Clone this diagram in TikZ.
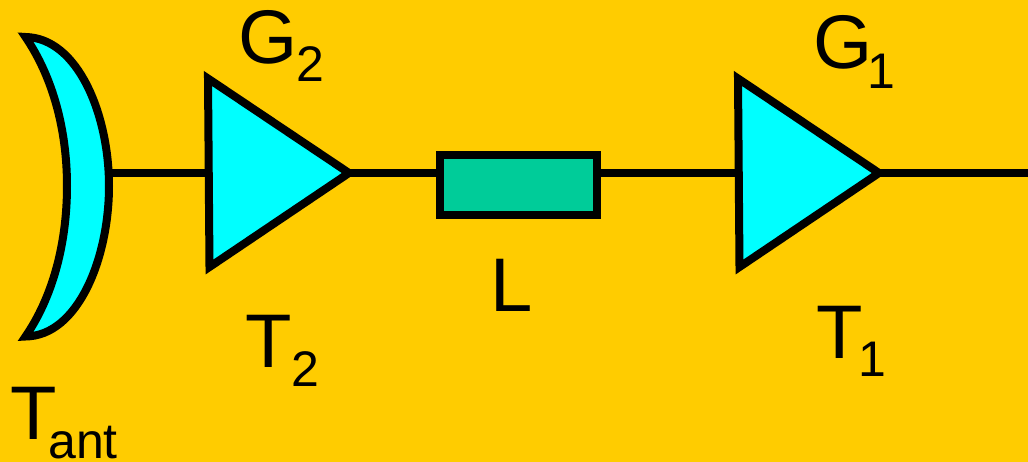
\documentclass[tikz,border=0pt]{standalone}
\usepackage{fontspec}
\setmainfont{Liberation Sans}
\definecolor{bg}{HTML}{FFCC00}
\definecolor{cy}{HTML}{00FFFF}
\definecolor{gr}{HTML}{00CC99}
\tikzset{x=1pt,y=-1pt,
 part/.style={draw=black,line width=8pt,line join=miter,miter limit=10},
 wire/.style={draw=black,line width=8pt},
 lab/.style={inner sep=0pt,anchor=base west,font=\fontsize{76}{76}\selectfont},
 sub/.style={inner sep=0pt,anchor=base west,font=\fontsize{50}{50}\selectfont}}
\begin{document}
\begin{tikzpicture}
\useasboundingbox (0,0) rectangle (1028,462);
\fill[bg] (0,0) rectangle (1028,462);
\coordinate (ant) at (109,173);
\coordinate (g2in) at (208,173);
\coordinate (g1in) at (738,173);
\coordinate (out) at (1028,173);
\coordinate (g2out) at (349,173);
\coordinate (g1out) at (879,173);
\draw[wire] (ant) -- (g2in);
\draw[wire] (g1out) -- (out);
\draw[part,fill=cy] (25.5,37) .. controls (78,38) and (109,115) .. (109,186) .. controls (109,258) and (78,336) .. (25.5,336.5) .. controls (52,298) and (67,245) .. (67,186) .. controls (67,128) and (52,76) .. (25.5,37) -- cycle;
\path[part,fill=cy] (208,78.5) -- (349,173) -- (209.5,267) -- cycle;
\path[part,fill=cy] (738,78.5) -- (879,173) -- (739.5,267) -- cycle;
\node[part,fill=gr,minimum width=157pt,minimum height=60pt,inner sep=0pt] (L) at (518.5,185) {};
\draw[wire] (g2out) -- (L.west |- g2out);
\draw[wire] (L.east |- g2out) -- (g1in);
\node[lab] (tg2) at (238,64) {G};
\node[sub] (sg2) at (296,82) {2};
\node[lab] (tg1) at (813,69) {G};
\node[sub] (sg1) at (867,89) {1};
\node[lab] (tL) at (490,312) {L};
\node[lab] (tt2) at (245,367) {T};
\node[sub] (st2) at (291,386) {2};
\node[lab] (tt1) at (816,358) {T};
\node[sub] (st1) at (858,376) {1};
\node[lab] (tta) at (10,439) {T};
\node[sub] (sta) at (48,458) {ant};
\end{tikzpicture}
\end{document}
